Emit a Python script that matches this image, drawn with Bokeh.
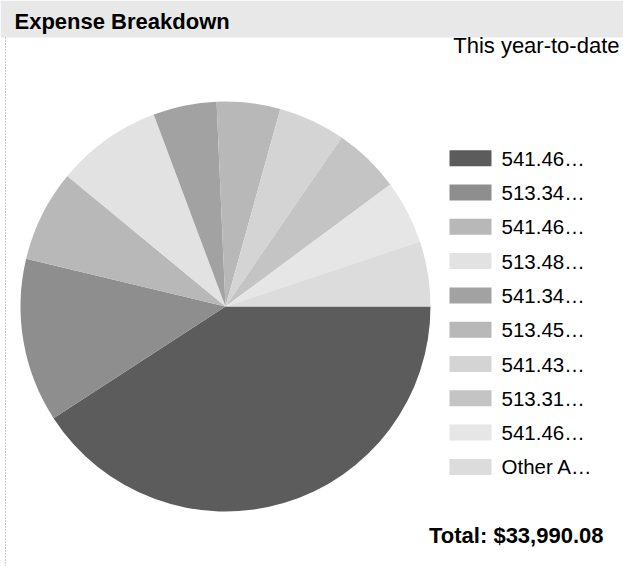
import numpy as np
from bokeh.plotting import figure
from bokeh.models import Range1d, ColumnDataSource
from bokeh.core.properties import value
from bokeh.embed import file_html
from bokeh.resources import INLINE

# ---- data ----
title = "Expense Breakdown"
subtitle = "This year-to-date"
labels = ["541.46\u2026", "513.34\u2026", "541.46\u2026", "513.48\u2026", "541.34\u2026",
          "513.45\u2026", "541.43\u2026", "513.31\u2026", "541.46\u2026", "Other A\u2026"]
amounts = [13880.0, 4390.0, 2455.0, 2832.0, 1700.0, 1700.0, 1794.0, 1794.0, 1700.0, 1745.08]
colors = ["#5c5c5c", "#8e8e8e", "#b8b8b8", "#e2e2e2", "#a2a2a2",
          "#b8b8b8", "#d4d4d4", "#c4c4c4", "#e6e6e6", "#dcdcdc"]
total_text = "Total: $33,990.08"

W, H = 623, 566
p = figure(width=W, height=H, x_range=Range1d(0, W), y_range=Range1d(0, H),
           output_backend="svg", toolbar_location=None, min_border=0)
p.axis.visible = False
p.grid.visible = False
p.outline_line_color = None
p.background_fill_color = "white"
p.border_fill_color = "white"

# title band
p.rect(x=[W / 2], y=[H - 18.5], width=W, height=37, fill_color="#e8e8e8", line_color=None)
p.text(x=[14], y=[H - 21], text=[title], text_font=value("Liberation Sans"),
       text_font_style="bold", text_font_size="22px", text_baseline="middle", text_color="black")
# left dotted border
p.line(x=[5, 5], y=[0, H - 37], line_color="#999999", line_width=1, line_dash="1 2")

# pie
amt = np.array(amounts)
frac = amt / amt.sum() * 2 * np.pi
ends = np.cumsum(frac)
starts = ends - frac
src = ColumnDataSource(dict(start=-starts, end=-ends, color=colors))
cx, cy, r = 225, H - 306, 205
p.wedge(x=cx, y=cy, radius=r, start_angle="start", end_angle="end", direction="clock",
        fill_color="color", line_color=None, source=src)

# subtitle
p.text(x=[W - 4], y=[H - 45], text=[subtitle], text_font=value("Liberation Sans"),
       text_font_size="22px", text_align="right", text_baseline="middle", text_color="black")

# legend
n = len(labels)
ly = [H - (157.7 + 34.3 * i) for i in range(n)]
p.rect(x=[470] * n, y=ly, width=42, height=16, fill_color=colors, line_color=None)
p.text(x=[501] * n, y=ly, text=labels, text_font=value("Liberation Sans"),
       text_font_size="20.5px", text_baseline="middle", text_color="black")

# total
p.text(x=[W - 20], y=[H - 535], text=[total_text], text_font=value("Liberation Sans"),
       text_font_style="bold", text_font_size="22px", text_align="right",
       text_baseline="middle", text_color="black")

open("out.html", "w").write(file_html(p, INLINE))
